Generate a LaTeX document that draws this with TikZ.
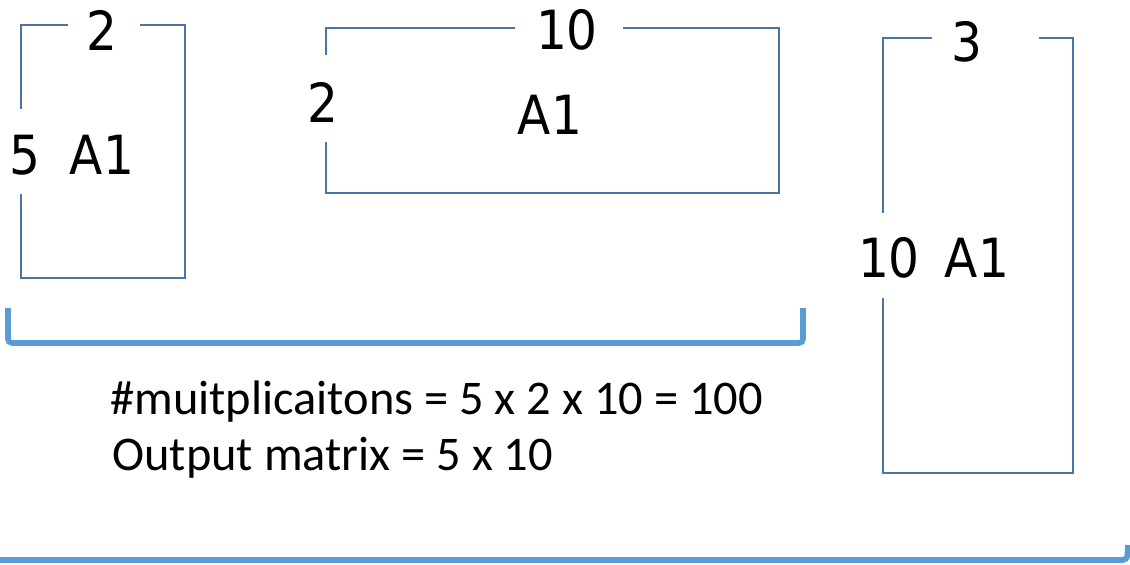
\documentclass[tikz,border=0pt]{standalone}
\usepackage{fontspec}
\setmainfont{Carlito}
\newfontfamily\dimfont{DejaVu Sans Condensed}
\definecolor{boxblue}{HTML}{4A74A3}
\definecolor{bracketblue}{HTML}{5B9BD5}
\begin{document}
\begin{tikzpicture}[x=0.5pt, y=-0.5pt,
  every node/.style={inner sep=0pt},
  dimlabel/.style={font=\dimfont\fontsize{27}{30}\selectfont},
  note/.style={font=\fontsize{24.2}{29}\selectfont, anchor=west},
  matline/.style={boxblue, line width=1pt},
  bracket/.style={bracketblue, line width=2.8pt, rounded corners=2pt}]
  \useasboundingbox (0,0) rectangle (1130,564);

  % first matrix 5 x 2
  \draw[matline] (68,25) -- (21,25) -- (21,109);
  \draw[matline] (140,25) -- (185,25) -- (185,278) -- (21,278) -- (21,194);
  \node[dimlabel] (colsA) at (102,30) {2};
  \node[dimlabel] (rowsA) at (25,155) {5};
  \node[dimlabel] (nameA) at (102,155) {A1};

  % second matrix 2 x 10
  \draw[matline] (515,28) -- (326,28) -- (326,55);
  \draw[matline] (623,28) -- (779,28) -- (779,193) -- (326,193) -- (326,142);
  \node[dimlabel] (colsB) at (567,30) {10};
  \node[dimlabel] (rowsB) at (323,102) {2};
  \node[dimlabel] (nameB) at (550,115) {A1};

  % third matrix 10 x 3
  \draw[matline] (932,38) -- (883,38) -- (883,213);
  \draw[matline] (1039,38) -- (1073,38) -- (1073,473) -- (883,473) -- (883,298);
  \node[dimlabel] (colsC) at (967,42) {3};
  \node[dimlabel] (rowsC) at (889,258) {10};
  \node[dimlabel] (nameC) at (977,258) {A1};

  % brackets
  \draw[bracket] (8,308) -- (8,343) -- (803,343) -- (803,308);
  \draw[bracket] (0,560) -- (1127,560) -- (1128,545);

  % notes
  \node[note] (mults) at (110,402) {\#muitplicaitons = 5 x 2 x 10 = 100};
  \node[note] (outsize) at (112,458) {Output matrix = 5 x 10};
\end{tikzpicture}
\end{document}
